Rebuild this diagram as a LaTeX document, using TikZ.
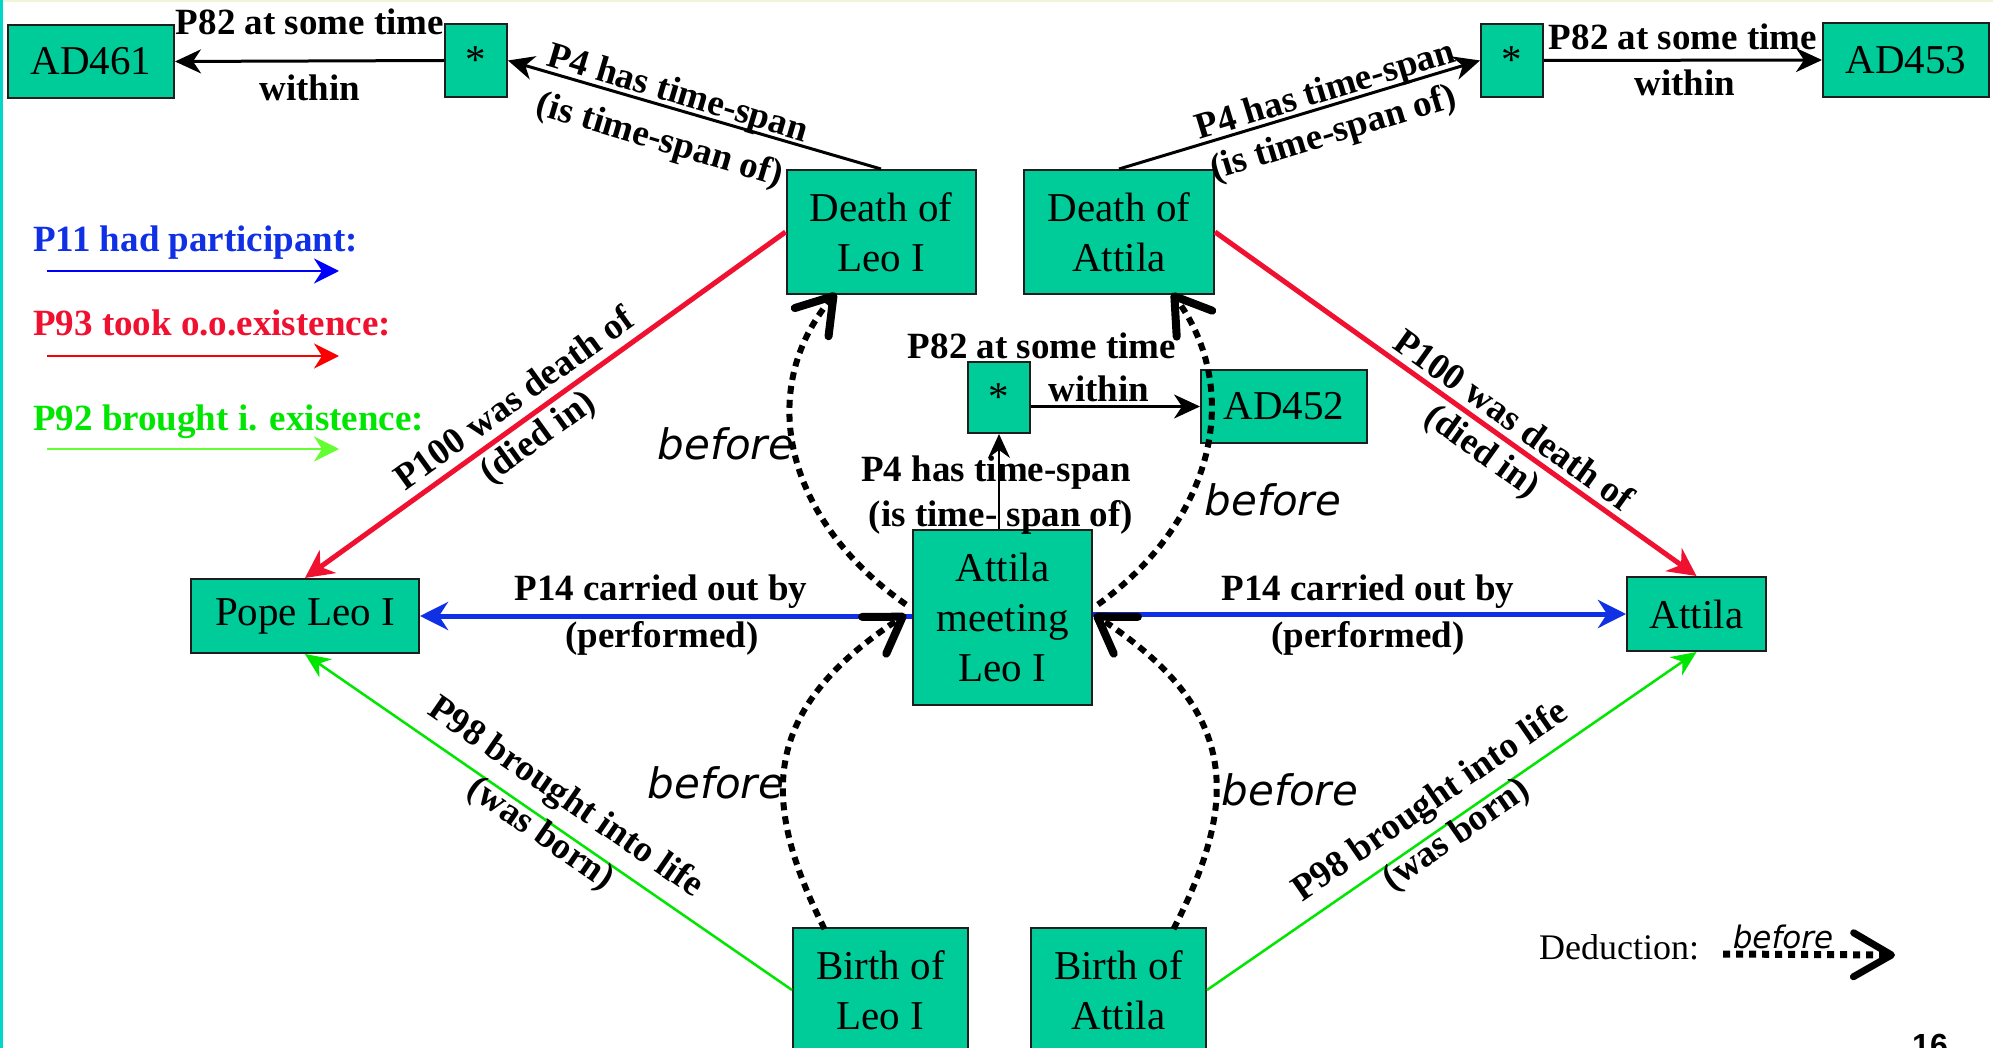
\documentclass[tikz,border=0pt]{standalone}
\usepackage{fontspec}
\setmainfont{Liberation Serif}
\newfontfamily\sansit{DejaVu Sans}
\newfontfamily\pagenum{Liberation Sans}
\usetikzlibrary{arrows.meta,calc}

\definecolor{boxfill}{RGB}{0,204,153}
\definecolor{boxline}{RGB}{30,30,30}
\definecolor{relred}{RGB}{240,16,48}
\definecolor{relblue}{RGB}{16,48,230}
\definecolor{relgreen}{RGB}{0,230,0}
\definecolor{keyred}{RGB}{250,0,0}
\definecolor{keyblue}{RGB}{0,0,250}
\definecolor{keygreen}{RGB}{100,255,50}
\definecolor{frameline}{RGB}{0,215,200}
\definecolor{topline}{RGB}{240,245,215}

\tikzset{
  entity/.style={draw=boxline, line width=2pt, fill=boxfill, inner sep=0pt,
    align=center, font=\fontsize{41}{50}\selectfont},
  rel/.style={font=\fontsize{37}{44}\selectfont\bfseries, inner sep=0pt, anchor=base},
  conn/.style={line width=3pt, -{Stealth[length=26pt,width=24pt,inset=8pt]}},
  thinconn/.style={line width=2pt, -{Stealth[length=24pt,width=22pt,inset=8pt]}},
  redrel/.style={draw=relred, line width=5pt, -{Stealth[length=28pt,width=28pt,inset=9pt]}},
  bluerel/.style={draw=relblue, line width=5pt, -{Stealth[length=28pt,width=28pt,inset=9pt]}},
  greenrel/.style={draw=relgreen, line width=2.5pt, -{Stealth[length=25pt,width=22pt,inset=8pt]}},
  keyarrow/.style={line width=2.5pt, -{Stealth[length=25pt,width=25pt,inset=8pt]}},
  deduce/.style={line width=6pt, dash pattern=on 8pt off 6pt,
    -{Straight Barb[length=34pt,width=44pt,line width=8pt,round]}},
  beforelbl/.style={font=\sansit\itshape\fontsize{42}{50}\selectfont, inner sep=0pt},
}

\begin{document}
\begin{tikzpicture}[x=1pt,y=-1pt]
\useasboundingbox (0,0) rectangle (1993,1048);
\clip (0,0) rectangle (1993,1048);
\fill[white] (0,0) rectangle (1993,1048);
\fill[frameline] (0,0) rectangle (2.5,1048);
\fill[topline] (2.5,0) rectangle (1993,2);

% ---------- entities ----------
\node[entity, minimum width=166pt, minimum height=73pt] (AD461) at (91,61.5) {AD461};
\node[entity, minimum width=62pt, minimum height=73pt] (starL) at (476,60.5) {*};
\node[entity, minimum width=62pt, minimum height=73pt] (starR) at (1512,60.5) {*};
\node[entity, minimum width=166pt, minimum height=74pt] (AD453) at (1906,60) {AD453};
\node[entity, minimum width=189pt, minimum height=124pt] (DeathLeo) at (881,232) {Death of\\Leo I};
\node[entity, minimum width=190pt, minimum height=124pt] (DeathAttila) at (1119,232) {Death of\\Attila};
\node[entity, minimum width=62pt, minimum height=71pt] (starM) at (999,397.5) {*};
\node[entity, minimum width=166pt, minimum height=73pt] (AD452) at (1284,406.5) {AD452};
\node[entity, minimum width=179pt, minimum height=175pt] (Meeting) at (1002.5,617.5) {Attila\\meeting\\Leo I};
\node[entity, minimum width=228pt, minimum height=74pt] (PopeLeo) at (305,616) {Pope Leo I};
\node[entity, minimum width=139pt, minimum height=74pt] (Attila) at (1696.5,614) {Attila};
\node[entity, minimum width=175pt, minimum height=124pt] (BirthLeo) at (880.5,990) {Birth of\\Leo I};
\node[entity, minimum width=175pt, minimum height=124pt] (BirthAttila) at (1118.5,990) {Birth of\\Attila};

% ---------- time-span relations ----------
\draw[conn] (starL.west) -- (AD461.east);
\node[rel] (lblA1) at (310,35) {P82 at some time};
\node[rel] (lblA2) at (310,101) {within};

\draw[conn] (starR.east) -- (AD453.west);
\node[rel] (lblB1) at (1683,50) {P82 at some time};
\node[rel] (lblB2) at (1685,96) {within};

\draw[conn] (DeathLeo.north) -- (starL.east);
\node[rel, rotate=-16.6] (lblC1) at (675,103.5) {P4 has time-span};
\node[rel, rotate=-16.6] (lblC2) at (657,150) {(is time-span of)};

\draw[conn] (DeathAttila.north) -- (starR.west);
\node[rel, rotate=16.9] (lblD1) at (1328.5,100.5) {P4 has time-span};
\node[rel, rotate=16.9] (lblD2) at (1336,143) {(is time-span of)};

\draw[conn] (starM.east |- AD452.west) -- (AD452.west);
\node[rel] (lblE1) at (1042,358) {P82 at some time};
\node[rel] (lblE2) at (1099,401) {within};

\draw[thinconn] (Meeting.north -| starM.south) -- (starM.south);
\node[rel] (lblF1) at (996,481) {P4 has time-span};
\node[rel] (lblF2) at (1001,526) {(is time- span of)};

% ---------- death ----------
\draw[redrel] (DeathLeo.west) -- (PopeLeo.north);
\node[rel, rotate=35.8] (lblG1) at (521,408) {P100 was death of};
\node[rel, rotate=35.8] (lblG2) at (544,446) {(died in)};

\draw[redrel] (DeathAttila.east) -- (Attila.north);
\node[rel, rotate=-35.6] (lblH1) at (1507,430) {P100 was death of};
\node[rel, rotate=-35.6] (lblH2) at (1476,460) {(died in)};

% ---------- participation ----------
\draw[bluerel] (Meeting.west |- PopeLeo.east) -- (PopeLeo.east);
\node[rel] (lblI1) at (661,600) {P14 carried out by};
\node[rel] (lblI2) at (662,647) {(performed)};

\draw[bluerel] (Meeting.east |- Attila.west) -- (Attila.west);
\node[rel] (lblJ1) at (1368,600) {P14 carried out by};
\node[rel] (lblJ2) at (1368,647) {(performed)};

% ---------- birth ----------
\draw[greenrel] (BirthLeo.west) -- (PopeLeo.south);
\node[rel, rotate=-34.6] (lblK1) at (560,806) {P98 brought into life};
\node[rel, rotate=-34.6] (lblK2) at (535,842) {(was born)};

\draw[greenrel] (BirthAttila.east) -- (Attila.south);
\node[rel, rotate=34.7] (lblL1) at (1436,810) {P98 brought into life};
\node[rel, rotate=34.7] (lblL2) at (1462,843) {(was born)};

% ---------- deduced "before" relations ----------
\coordinate (dA0) at ($(Meeting.west)+(-6,-13)$);
\coordinate (dA1) at ($(DeathLeo.south)+(-45,-2)$);
\draw[deduce] (dA0) .. controls (785,520) and (755,390) .. (dA1);
\node[beforelbl] (befA) at (726,444) {before};

\coordinate (dB0) at ($(Meeting.east)+(5,-13)$);
\coordinate (dB1) at ($(DeathAttila.south)+(53,-2)$);
\draw[deduce] (dB0) .. controls (1215,520) and (1243,390) .. (dB1);
\node[beforelbl] (befB) at (1273,500) {before};

\coordinate (dC0) at ($(BirthLeo.north)+(-56,2)$);
\coordinate (dC1) at ($(Meeting.west)+(-6,-3)$);
\draw[deduce] (dC0) .. controls (760,800) and (760,710) .. (dC1);
\node[beforelbl] (befC) at (716,783) {before};

\coordinate (dD0) at ($(BirthAttila.north)+(55,2)$);
\coordinate (dD1) at ($(Meeting.east)+(1,-3)$);
\draw[deduce] (dD0) .. controls (1240,800) and (1240,710) .. (dD1);
\node[beforelbl] (befD) at (1290,790) {before};

% ---------- key ----------
\node[rel, anchor=base west, text=relblue] (keyP11) at (33,252) {P11 had participant:};
\coordinate (kb0) at (47,271); \coordinate (kb1) at (339,271);
\draw[keyarrow, draw=keyblue] (kb0) -- (kb1);

\node[rel, anchor=base west, text=relred] (keyP93) at (33,336) {P93 took o.o.existence:};
\coordinate (kr0) at (47,356); \coordinate (kr1) at (339,356);
\draw[keyarrow, draw=keyred] (kr0) -- (kr1);

\node[rel, anchor=base west, text=relgreen] (keyP92) at (33,430) {P92 brought i. existence:};
\coordinate (kg0) at (47,449); \coordinate (kg1) at (339,449);
\draw[keyarrow, draw=keygreen] (kg0) -- (kg1);

\node[anchor=base, inner sep=0pt, font=\fontsize{36}{40}\selectfont] (deduct) at (1619,959) {Deduction:};
\coordinate (dk0) at (1723,954); \coordinate (dk1) at (1895,955);
\draw[line width=7pt, dash pattern=on 7pt off 6pt,
  -{Straight Barb[length=38pt,width=44pt,line width=7pt,round]}] (dk0) -- (dk1);
\node[inner sep=0pt, font=\sansit\itshape\fontsize{31}{36}\selectfont] (befKey) at (1783,937) {before};

\node[anchor=base, inner sep=0pt, font=\pagenum\bfseries\fontsize{32}{36}\selectfont] (pageno) at (1930,1056) {16};
\end{tikzpicture}
\end{document}
